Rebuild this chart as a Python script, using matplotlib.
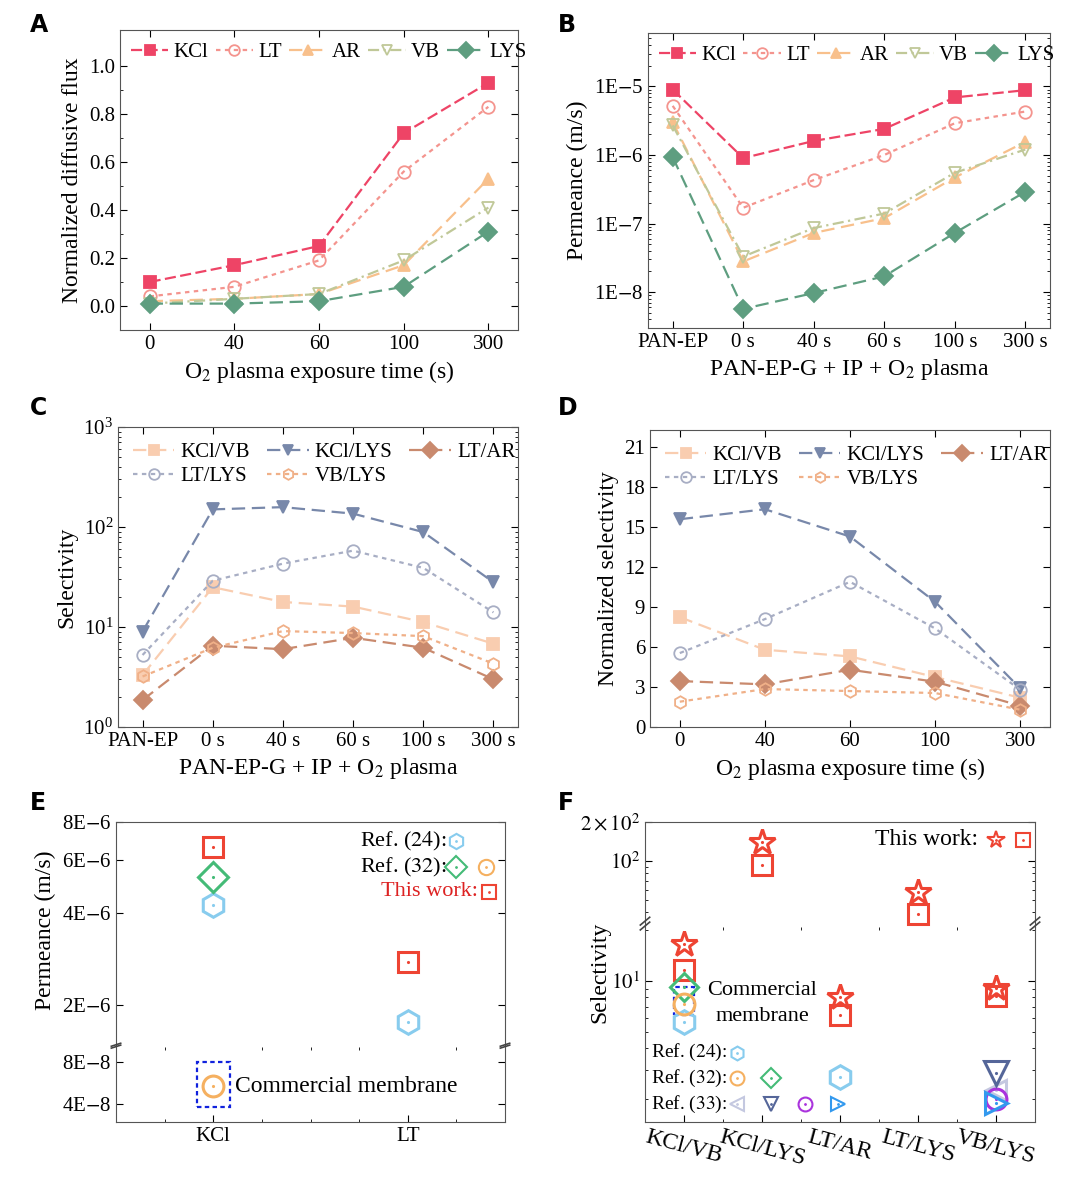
import matplotlib.pyplot as plt
import matplotlib.patches as mpatches
import numpy as np

plt.rcParams['font.family'] = 'Liberation Serif'
plt.rcParams['font.size'] = 15
plt.rcParams['mathtext.fontset'] = 'stix'

W, H = 1080, 1187

# ---------- data ----------
times_A = ['0', '40', '60', '100', '300']
flux = {
    'KCl': [0.10, 0.17, 0.25, 0.72, 0.93],
    'LT':  [0.04, 0.08, 0.19, 0.56, 0.83],
    'AR':  [0.02, 0.03, 0.05, 0.17, 0.53],
    'VB':  [0.01, 0.03, 0.05, 0.19, 0.41],
    'LYS': [0.01, 0.01, 0.02, 0.08, 0.31],
}
cats_B = ['PAN-EP', '0 s', '40 s', '60 s', '100 s', '300 s']
perm = {
    'KCl': [9e-6, 9e-7, 1.6e-6, 2.4e-6, 6.9e-6, 8.8e-6],
    'LT':  [5.2e-6, 1.7e-7, 4.3e-7, 1.0e-6, 2.9e-6, 4.3e-6],
    'AR':  [3.0e-6, 2.8e-8, 7.3e-8, 1.2e-7, 4.7e-7, 1.55e-6],
    'VB':  [2.7e-6, 3.3e-8, 8.6e-8, 1.4e-7, 5.5e-7, 1.2e-6],
    'LYS': [9.3e-7, 5.7e-9, 9.7e-9, 1.7e-8, 7.3e-8, 2.9e-7],
}
sel = {
    'KCl/VB':  [3.3, 25, 17.8, 16, 11.2, 6.8],
    'KCl/LYS': [9, 150, 158, 136, 89, 28],
    'LT/AR':   [1.86, 6.5, 6.0, 7.8, 6.2, 3.0],
    'LT/LYS':  [5.25, 29, 43, 58, 39, 14],
    'VB/LYS':  [3.2, 6.2, 9.1, 8.7, 8.1, 4.3],
}
nsel = {
    'KCl/VB':  [8.25, 5.8, 5.3, 3.75, 2.2],
    'KCl/LYS': [15.6, 16.35, 14.3, 9.4, 2.9],
    'LT/AR':   [3.45, 3.2, 4.3, 3.4, 1.6],
    'LT/LYS':  [5.55, 8.1, 10.9, 7.4, 2.8],
    'VB/LYS':  [1.9, 2.85, 2.7, 2.55, 1.3],
}
# panel E
cats_E = ['KCl', 'LT']
this_work_E = [6.6e-6, 2.77e-6]
ref24_E = [4.27e-6, 1.75e-6]
ref32_diamond_E = [5.27e-6]
commercial_E = [5.36e-8]
# panel F
cats_F = ['KCl/VB', 'KCl/LYS', 'LT/AR', 'LT/LYS', 'VB/LYS']
this_star_F = [16.4, 141, 8.05, 57.7, 9.1]
this_square_F = [11.6, 93, 6.3, 39, 8.1]
ref24_F = {0: 5.7, 2: 2.7}
ref32_circle_F = {0: 7.35}
ref32_diamond_F = {0: 9.2}
ref33_down_F = {4: 2.85}
ref33_left_F = {4: 2.27}
ref33_circle_F = {4: 2.0}
ref33_right_F = {4: 1.9}

# ---------- styles ----------
st1 = {
    'KCl': dict(color='#ee4466', marker='s', ls=(0, (5, 2)), mfc='#ee4466'),
    'LT':  dict(color='#f4948e', marker='o', ls=(0, (2, 2)), mfc='none'),
    'AR':  dict(color='#f8c08c', marker='^', ls=(0, (6, 3)), mfc='#f8c08c'),
    'VB':  dict(color='#c0c898', marker='v', ls=(0, (5, 2, 1, 2)), mfc='none'),
    'LYS': dict(color='#5e9e80', marker='D', ls=(0, (6, 3)), mfc='#5e9e80'),
}
st2 = {
    'KCl/VB':  dict(color='#f9cdb0', marker='s', ls=(0, (6, 3)), mfc='#f9cdb0'),
    'KCl/LYS': dict(color='#7888aa', marker='v', ls=(0, (6, 3)), mfc='#7888aa'),
    'LT/AR':   dict(color='#c98a6e', marker='D', ls=(0, (6, 3)), mfc='#c98a6e'),
    'LT/LYS':  dict(color='#a8aec4', marker='o', ls=(0, (2, 2)), mfc='none'),
    'VB/LYS':  dict(color='#f0b088', marker='h', ls=(0, (2, 2)), mfc='none'),
}


def ax_px(l, t, r, b):
    return fig.add_axes([l / W, 1 - b / H, (r - l) / W, (b - t) / H])


def style(ax):
    ax.tick_params(direction='in', which='both', top=True, right=True)
    ax.tick_params(which='major', length=5)
    ax.tick_params(which='minor', length=2.5)
    for s in ax.spines.values():
        s.set_color('#555555')


def lines(ax, x, data, sty):
    for k, v in data.items():
        s = sty[k]
        ax.plot(x, v, color=s['color'], ls=s['ls'], marker=s['marker'],
                mfc=s['mfc'], mec=s['color'], ms=9, mew=1.3, lw=1.6, label=k)


def legend5(ax):
    ax.legend(ncol=5, loc='upper left', bbox_to_anchor=(-0.02, 1.02), frameon=False,
              handlelength=1.8, columnspacing=0.35, handletextpad=0.25, fontsize=15,
              markerscale=0.85)


def legend3(ax):
    h, l = ax.get_legend_handles_labels()
    order = [0, 3, 1, 4, 2]
    ax.legend([h[i] for i in order], [l[i] for i in order], ncol=3, loc='upper left',
              bbox_to_anchor=(-0.01, 1.01), frameon=False, handlelength=2.0,
              columnspacing=0.8, handletextpad=0.3, fontsize=15, labelspacing=0.2,
              markerscale=0.85)


fig = plt.figure(figsize=(W / 100, H / 100), dpi=100)

# A
ax = ax_px(120, 30, 518, 330)
xa = np.arange(len(times_A))
lines(ax, xa, flux, st1)
ax.set_xticks(xa, times_A)
ax.set_xlim(-0.35, 4.35)
ax.set_ylim(-0.1, 1.15)
ax.set_yticks(np.arange(0, 1.01, 0.2))
ax.set_yticks(np.arange(0, 1.1, 0.1), minor=True)
ax.set_ylabel('Normalized diffusive flux', fontsize=17)
ax.set_xlabel('O$_2$ plasma exposure time (s)', fontsize=17)
legend5(ax)
style(ax)

# B
ax = ax_px(648, 33, 1050, 328)
xb = np.arange(len(cats_B))
lines(ax, xb, perm, st1)
ax.set_yscale('log')
ax.set_ylim(3e-9, 6e-5)
ax.set_yticks([1e-8, 1e-7, 1e-6, 1e-5], ['1E$-$8', '1E$-$7', '1E$-$6', '1E$-$5'])
ax.set_xticks(xb, cats_B)
ax.set_xlim(-0.35, 5.35)
ax.set_ylabel('Permeance (m/s)', fontsize=17)
ax.set_xlabel('PAN-EP-G + IP + O$_2$ plasma', fontsize=17)
legend5(ax)
style(ax)

# C
ax = ax_px(118, 427, 518, 727)
lines(ax, xb, sel, st2)
ax.set_yscale('log')
ax.set_ylim(1, 1000)
ax.set_xticks(xb, cats_B)
ax.set_xlim(-0.35, 5.35)
ax.set_ylabel('Selectivity', fontsize=17)
ax.set_xlabel('PAN-EP-G + IP + O$_2$ plasma', fontsize=17)
legend3(ax)
style(ax)

# D
ax = ax_px(650, 430, 1050, 727)
lines(ax, xa, nsel, st2)
ax.set_ylim(0, 22.3)
ax.set_yticks(np.arange(0, 22, 3))
ax.set_xticks(xa, times_A)
ax.set_xlim(-0.35, 4.35)
ax.set_ylabel('Normalized selectivity', fontsize=17)
ax.set_xlabel('O$_2$ plasma exposure time (s)', fontsize=17)
legend3(ax)
style(ax)


def pt(ax, x, y, marker, color, ms=15, dot=True):
    ax.plot(x, y, marker=marker, mfc='none', mec=color, ms=ms, mew=2.2, ls='none',
            clip_on=False)
    if dot:
        ax.plot(x, y, marker='.', color=color, ms=2.5, ls='none', clip_on=False)


def brk(ax_bot):
    kw = dict(color='#444444', lw=1.2, clip_on=False)
    for xx in (0, 1):
        ax_bot.plot([xx - 0.012, xx + 0.012], [0.985, 1.025], transform=ax_bot.transAxes, **kw)
        ax_bot.plot([xx - 0.012, xx + 0.012], [1.01, 1.05], transform=ax_bot.transAxes, **kw)


def key(ax, xf, yf, m, c, ms=11):
    ax.plot(xf, yf, marker=m, mfc='none', mec=c, ms=ms, mew=1.5, transform=ax.transAxes,
            clip_on=False)
    ax.plot(xf, yf, marker='.', color=c, ms=2, transform=ax.transAxes, clip_on=False)


RED, BLUE, GREEN, ORANGE = '#ee4433', '#88ccee', '#44bb77', '#f5b060'

# E
axt = ax_px(116, 822, 505, 1047)
axb = ax_px(116, 1047, 505, 1122)
for a in (axt, axb):
    a.set_xlim(-0.5, 1.5)
    a.set_yscale('log')
    style(a)
axt.set_ylim(1.45e-6, 8e-6)
axb.set_ylim(2.95e-8, 1.03e-7)
axt.spines['bottom'].set_visible(False)
axb.spines['top'].set_visible(False)
axt.tick_params(bottom=False, labelbottom=False, top=False)
axb.tick_params(top=False)
axt.set_yticks([2e-6, 4e-6, 6e-6, 8e-6], ['2E$-$6', '4E$-$6', '6E$-$6', '8E$-$6'])
axt.set_yticks([], minor=True)
axb.set_yticks([4e-8, 8e-8], ['4E$-$8', '8E$-$8'])
axb.set_yticks([], minor=True)
axb.set_xticks([0, 1], cats_E)
axb.set_xticks([-0.25, 0.25, 0.5, 0.75, 1.25], minor=True)
xe = np.arange(len(cats_E))
for x, v in zip(xe, this_work_E):
    pt(axt, x, v, 's', RED)
for x, v in zip(xe, ref24_E):
    pt(axt, x, v, 'h', BLUE, ms=17)
pt(axt, 0, ref32_diamond_E[0], 'D', GREEN, ms=15)
pt(axb, 0, commercial_E[0], 'o', ORANGE, ms=15)
axb.add_patch(mpatches.Rectangle((-0.085, 0.2), 0.17, 0.6, transform=axb.get_xaxis_transform(),
                                 fill=False, ec='#1122dd', ls=(0, (2, 1.5)), lw=1.6))
axb.text(0.11, commercial_E[0], 'Commercial membrane', va='center', fontsize=17)
brk(axb)
fig.text(45 / W, 1 - 930 / H, 'Permeance (m/s)', rotation=90, va='center', ha='center', fontsize=17)
axt.text(0.85, 0.915, 'Ref. ($\\mathit{24}$):', transform=axt.transAxes, ha='right', va='center', fontsize=16)
axt.text(0.85, 0.80, 'Ref. ($\\mathit{32}$):', transform=axt.transAxes, ha='right', va='center', fontsize=16)
axt.text(0.93, 0.69, 'This work:', transform=axt.transAxes, ha='right', va='center', fontsize=16, color='#dd2222')
key(axt, 0.875, 0.915, 'h', BLUE)
key(axt, 0.875, 0.80, 'D', GREEN)
key(axt, 0.95, 0.80, 'o', ORANGE)
key(axt, 0.96, 0.69, 's', RED, ms=10)

# F
axt = ax_px(645, 822, 1035, 927)
axb = ax_px(645, 927, 1035, 1122)
for a in (axt, axb):
    a.set_xlim(-0.5, 4.5)
    a.set_yscale('log')
    style(a)
axt.set_ylim(30.8, 200)
axb.set_ylim(1.47, 20.8)
axt.spines['bottom'].set_visible(False)
axb.spines['top'].set_visible(False)
axt.tick_params(bottom=False, labelbottom=False, top=False)
axb.tick_params(top=False)
axt.set_yticks([100, 200], ['$10^2$', '$2\\times10^2$'])
axt.set_yticks([40, 50, 60, 70, 80, 90], minor=True)
axt.tick_params(which='minor', labelleft=False)
axb.set_yticks([10], ['$10^1$'])
axb.set_yticks([2, 3, 4, 5, 6, 7, 8, 9, 20], minor=True)
axb.tick_params(which='minor', labelleft=False)
xf = np.arange(len(cats_F))
axb.set_xticks(xf, cats_F, rotation=-15, ha='center', fontsize=17)
axb.set_xticks(xf[:-1] + 0.5, minor=True)
for x, s, q in zip(xf, this_star_F, this_square_F):
    a = axt if s > 30 else axb
    pt(a, x, s, '*', RED, ms=19)
    a = axt if q > 30 else axb
    pt(a, x, q, 's', RED)
for d, m, c, ms in [(ref33_left_F, '<', '#c4c8e0', 15), (ref33_circle_F, 'o', '#aa33dd', 15),
                    (ref33_down_F, 'v', '#556699', 17), (ref33_right_F, '>', '#3399ee', 16),
                    (ref24_F, 'h', BLUE, 17), (ref32_diamond_F, 'D', GREEN, 14),
                    (ref32_circle_F, 'o', ORANGE, 15)]:
    for x, v in d.items():
        pt(axb, x, v, m, c, ms=ms)
axb.add_patch(mpatches.Rectangle((-0.13, 6.3), 0.26, 2.9, fill=False, ec='#1122dd',
                                 ls=(0, (2, 1.5)), lw=1.6))
axb.text(1.0, 8.8, 'Commercial', ha='center', va='center', fontsize=16)
axb.text(1.0, 6.2, 'membrane', ha='center', va='center', fontsize=16)
axt.text(0.855, 0.83, 'This work:', transform=axt.transAxes, ha='right', va='center', fontsize=17)
key(axt, 0.9, 0.83, '*', RED, ms=13)
key(axt, 0.97, 0.83, 's', RED, ms=10)
rows = [(0.355, 'Ref. ($\\mathit{24}$):', [('h', BLUE)]),
        (0.225, 'Ref. ($\\mathit{32}$):', [('o', ORANGE), ('D', GREEN)]),
        (0.09, 'Ref. ($\\mathit{33}$):', [('<', '#c4c8e0'), ('v', '#556699'), ('o', '#aa33dd'), ('>', '#3399ee')])]
for yy, lab, mks in rows:
    axb.text(0.015, yy, lab, transform=axb.transAxes, ha='left', va='center', fontsize=14)
    for i, (m, c) in enumerate(mks):
        key(axb, 0.235 + i * 0.087, yy, m, c, ms=10)
brk(axb)
fig.text(600 / W, 1 - 972 / H, 'Selectivity', rotation=90, va='center', ha='center', fontsize=17)

for lab, x, y in [('A', 30, 25), ('B', 558, 25), ('C', 30, 408), ('D', 558, 408),
                  ('E', 30, 803), ('F', 558, 803)]:
    fig.text(x / W, 1 - y / H, lab, fontsize=17, fontweight='bold', family='DejaVu Sans',
             va='center', ha='left')

fig.savefig('out.png', dpi=100)
